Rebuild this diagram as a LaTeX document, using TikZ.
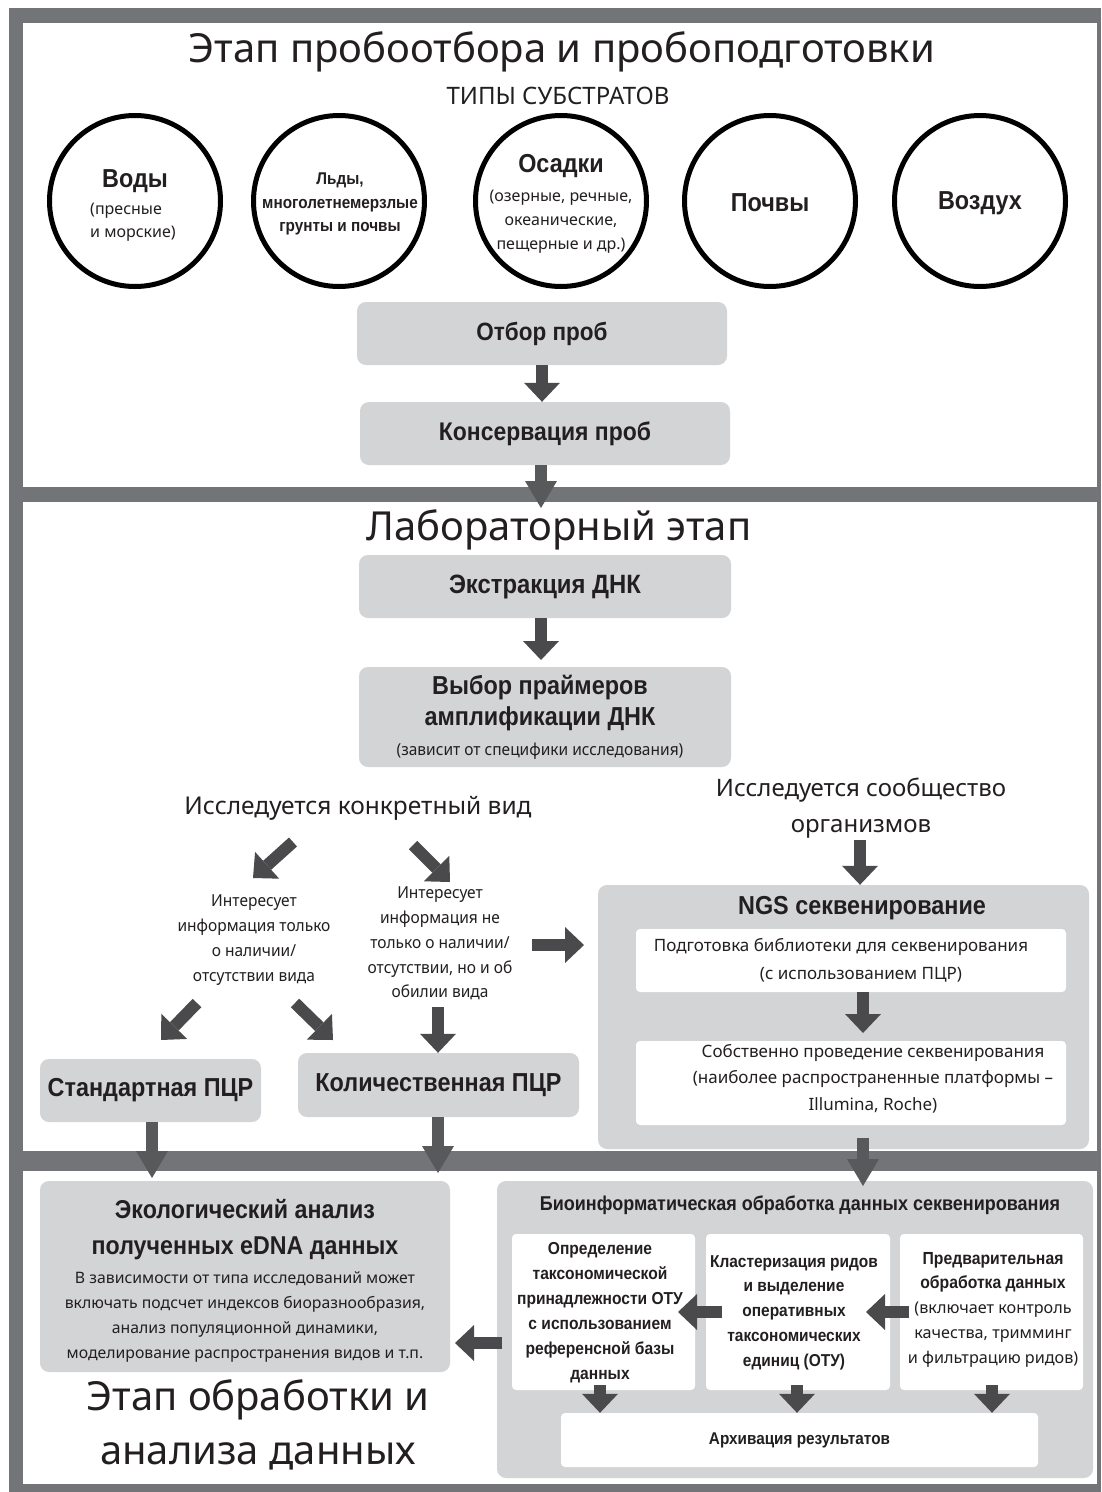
\documentclass[tikz,border=0pt]{standalone}
\usepackage{fontspec}
\setmainfont{Noto Sans}
\newfontfamily\cnd[FakeStretch=0.9]{Liberation Sans}
\newfontfamily\reg{Noto Sans}
\newfontfamily\regn[FakeStretch=0.94]{Noto Sans}
\usetikzlibrary{arrows.meta}
\definecolor{framec}{HTML}{737478}
\definecolor{boxc}{HTML}{D3D4D6}
\definecolor{arrc}{HTML}{4A4A4C}
\definecolor{bandarr}{HTML}{58595B}
\definecolor{txtc}{HTML}{231F20}
\tikzset{
  boldtx/.style 2 args={font=\cnd\bfseries\fontsize{#1pt}{#2pt}\selectfont, text=txtc, align=center, inner sep=0pt},
  regtx/.style 2 args={font=\reg\fontsize{#1pt}{#2pt}\selectfont, text=txtc, align=center, inner sep=0pt},
  nartx/.style 2 args={font=\regn\fontsize{#1pt}{#2pt}\selectfont, text=txtc, align=center, inner sep=0pt},
  gbox/.style={fill=boxc, rounded corners=9pt, inner sep=0pt},
  wbox/.style={fill=white, rounded corners=4pt, inner sep=0pt},
  circ/.style={circle, draw=black, line width=5pt, minimum size=171pt, inner sep=0pt},
  flow/.style={draw=arrc, line width=12pt, -{Triangle[width=36pt,length=19pt,line width=0pt]}},
  bandflow/.style={draw=bandarr, line width=12pt, -{Triangle[width=32pt,length=27pt,line width=0pt]}},
}
\begin{document}
\begin{tikzpicture}[x=1pt,y=-1pt]
\useasboundingbox (0,0) rectangle (1101,1492);
\fill[white] (0,0) rectangle (1101,1492);
\fill[framec] (9,8) rectangle (1101,1492);
\fill[white] (23,23) rectangle (1097,487);
\fill[white] (23,502) rectangle (1097,1151);
\fill[white] (23,1171) rectangle (1097,1484);

% ---------- Section 1
\node[regtx={40}{48}] (t1) at (562,52) {Этап пробоотбора и пробоподготовки};
\node[regtx={24}{28}] (t1b) at (558,96) {ТИПЫ СУБСТРАТОВ};
\node[circ] (c1) at (135,201) {};
\node[circ] (c2) at (339,201) {};
\node[circ] (c3) at (561,201) {};
\node[circ] (c4) at (770,201) {};
\node[circ] (c5) at (980,201) {};
\node[boldtx={26}{30}] (c1h) at (135,181) {Воды};
\node[regtx={16}{23}, align=left] (c1t) at (133,222) {(пресные\\и морские)};
\node[boldtx={17}{23.5}] (c2t) at (340,204) {Льды,\\многолетнемерзлые\\грунты и почвы};
\node[boldtx={26}{30}] (c3h) at (561,166) {Осадки};
\node[regtx={16}{24}] (c3t) at (561,222) {(озерные, речные,\\океанические,\\пещерные и др.)};
\node[boldtx={26}{30}] (c4t) at (770,203) {Почвы};
\node[boldtx={26}{30}] (c5t) at (980,203) {Воздух};

\node[gbox, minimum width=370pt, minimum height=63pt, boldtx={25}{30}] (otbor) at (542,333.5) {Отбор проб};
\node[gbox, minimum width=370pt, minimum height=63pt, boldtx={25.5}{30}] (kons) at (545,433.5) {Консервация проб};

% ---------- Section 2
\node[regtx={40}{48}] (t2) at (559,530) {Лабораторный этап};
\node[gbox, minimum width=372pt, minimum height=63pt, boldtx={26.5}{30}] (ekstr) at (545,586.5) {Экстракция ДНК};
\node[gbox, minimum width=372pt, minimum height=100pt] (vybor) at (545,717) {};
\node[boldtx={26}{31}] (vybort) at (540,703.5) {Выбор праймеров\\амплификации ДНК};
\node[nartx={16.5}{20}] (vybors) at (540,751) {(зависит от специфики исследования)};

\node[regtx={24.5}{30}] (vid) at (358,808) {Исследуется конкретный вид};
\node[regtx={24}{36}] (soob) at (861,808) {Исследуется сообщество\\организмов};
\node[nartx={16.5}{25}] (qa) at (254,940) {Интересует\\информация только\\о наличии/\\отсутствии вида};
\node[nartx={16.5}{24.75}] (qb) at (440,943.5) {Интересует\\информация не\\только о наличии/\\отсутствии, но и об\\обилии вида};
\node[gbox, minimum width=221pt, minimum height=63pt, boldtx={26}{30}] (std) at (150.5,1090.5) {Стандартная ПЦР};
\node[gbox, minimum width=281pt, minimum height=64pt, boldtx={26}{30}] (kol) at (438.5,1085) {Количественная ПЦР};

\node[gbox, minimum width=491pt, minimum height=264pt] (ngs) at (843.5,1017) {};
\node[boldtx={26}{30}] (ngst) at (862,908) {NGS секвенирование};
\node[wbox, minimum width=430pt, minimum height=63pt] (lib) at (851,960.5) {};
\node[regtx={17}{20}] (lib1) at (841,947) {Подготовка библиотеки для секвенирования};
\node[regtx={17}{20}] (lib2) at (861,975) {(с использованием ПЦР)};
\node[wbox, minimum width=430pt, minimum height=84pt] (seq) at (851,1083) {};
\node[regtx={17}{26.5}] (seqt) at (873,1078.5) {Собственно проведение секвенирования\\(наиболее распространенные платформы –\\Illumina, Roche)};

% ---------- Section 3
\node[gbox, minimum width=410pt, minimum height=191pt] (eco) at (245,1276.5) {};
\node[boldtx={25.8}{36}] (ecot) at (245,1230) {Экологический анализ\\полученных eDNA данных};
\node[regtx={15.8}{25}] (ecob) at (245,1317.5) {В зависимости от типа исследований может\\включать подсчет индексов биоразнообразия,\\анализ популяционной динамики,\\моделирование распространения видов и т.п.};
\node[regtx={40}{54}] (t3) at (258,1425) {Этап обработки и\\анализа данных};

\node[gbox, minimum width=596pt, minimum height=297pt] (bio) at (795,1329.5) {};
\node[boldtx={20}{24}] (biot) at (800,1205) {Биоинформатическая обработка данных секвенирования};
\node[wbox, minimum width=183pt, minimum height=156pt] (ba) at (603.5,1312) {};
\node[boldtx={17.3}{25}] (bat) at (600,1312.5) {Определение\\таксономической\\принадлежности ОТУ\\с использованием\\референсной базы\\данных};
\node[wbox, minimum width=184pt, minimum height=156pt] (bb) at (798,1312) {};
\node[boldtx={17.2}{24.75}] (bbt) at (794,1312.5) {Кластеризация ридов\\и выделение\\оперативных\\таксономических\\единиц (ОТУ)};
\node[wbox, minimum width=183pt, minimum height=156pt] (bc) at (991.5,1312) {};
\node[regtx={16.2}{24.75}] (bct) at (993,1309.5) {{\cnd\bfseries\fontsize{17.5pt}{24.75pt}\selectfont Предварительная}\\{\cnd\bfseries\fontsize{17.5pt}{24.75pt}\selectfont обработка данных}\\(включает контроль\\качества, тримминг\\и фильтрацию ридов)};
\node[wbox, minimum width=477pt, minimum height=54pt, boldtx={17}{20}] (arch) at (799.5,1440) {Архивация результатов};

% ---------- arrow end points
\coordinate (k1) at (541,508);
\coordinate (e1) at (541,660);
\coordinate (d1s) at (293,842); \coordinate (d1e) at (253,878);
\coordinate (d2s) at (413,845); \coordinate (d2e) at (450,882);
\coordinate (r1s) at (532,945); \coordinate (r1e) at (584,945);
\coordinate (d3s) at (197,1003); \coordinate (d3e) at (161,1040);
\coordinate (d4s) at (295,1003); \coordinate (d4e) at (333,1040);
\coordinate (qbs) at (438,1007);
\coordinate (s1s) at (860,840); 
\coordinate (std2) at (152,1178);
\coordinate (kol2) at (438,1173);
\coordinate (lib3) at (863,1033);
\coordinate (ngs1) at (863,1138); \coordinate (ngs2) at (863,1186);
\coordinate (bios) at (502,1343); \coordinate (ecoe) at (455,1343);
\coordinate (cbs) at (909,1312); \coordinate (cbe) at (866,1312);
\coordinate (bas) at (722,1312); \coordinate (bae) at (678,1312);
\coordinate (ad1) at (600,1385); \coordinate (ad2) at (797,1385); \coordinate (ad3) at (992,1385);

% ---------- arrows
\draw[flow] (otbor.south) -- (otbor.south |- kons.north);
\draw[bandflow] (kons.south -| k1) -- (k1);
\draw[flow] (ekstr.south -| e1) -- (e1);
\draw[flow] (d1s) -- (d1e);
\draw[flow] (d2s) -- (d2e);
\draw[flow] (r1s) -- (r1e);
\draw[flow] (d3s) -- (d3e);
\draw[flow] (d4s) -- (d4e);
\draw[flow] (qbs) -- (qbs |- kol.north);
\draw[flow] (s1s) -- (s1s |- ngs.north);
\draw[bandflow] (std.south -| std2) -- (std2);
\draw[bandflow] (kol.south -| kol2) -- (kol2);
\draw[flow] (lib.south -| lib3) -- (lib3);
\draw[bandflow] (ngs1) -- (ngs2);
\draw[flow] (bios) -- (ecoe);
\draw[flow] (cbs) -- (cbe);
\draw[flow] (bas) -- (bae);
\draw[flow] (ad1) -- (ad1 |- arch.north);
\draw[flow] (ad2) -- (ad2 |- arch.north);
\draw[flow] (ad3) -- (ad3 |- arch.north);
\end{tikzpicture}
\end{document}
